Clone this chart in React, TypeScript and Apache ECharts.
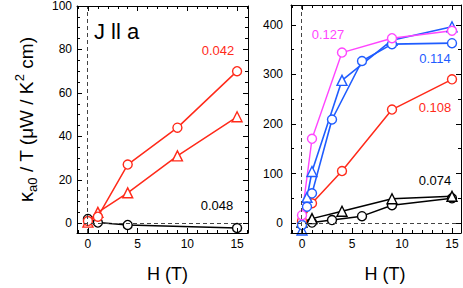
import React, { useEffect, useRef } from "react";
import * as echarts from "echarts";

const FONT = "'Liberation Sans', Arial, Helvetica, sans-serif";
const RED = "#ff2a1a";
const BLUE = "#1f5cff";
const MAGENTA = "#ff45ff";
const BLACK = "#000000";

// ---- Left panel (J || a) ----
const leftRedCircH = [0, 1, 4, 9, 15];
const leftRedCircK = [1, 3, 27, 44, 70];
const leftRedTriH = [0, 1, 4, 9, 15];
const leftRedTriK = [0.5, 5, 14, 31, 49];
const leftBlackCircH = [0, 1, 4, 15];
const leftBlackCircK = [2, 0.3, -0.8, -2.2];

// ---- Right panel ----
const magCircH = [0, 1, 4, 9, 15];
const magCircK = [16, 170, 344, 373, 388];
const blueCircH = [0, 0.5, 1, 3, 6, 9, 15];
const blueCircK = [-4, 33, 60, 209, 327, 361, 363];
const blueTriH = [0, 0.5, 1, 4, 9, 15];
const blueTriK = [-14, 52, 104, 288, 369, 396];
const rightRedCircH = [0, 1, 4, 9, 15];
const rightRedCircK = [4, 40, 105, 229, 290];
const blackTriH = [0, 1, 4, 9, 15];
const blackTriK = [2, 9, 24, 49, 54];
const blackCircH = [0, 1, 3, 6, 9, 15];
const blackCircK = [0, 1, 6, 14, 36, 50];

// ---- Ticks ----
const xMajorTicks = [0, 5, 10, 15];
const leftYMajorTicks = [0, 20, 40, 60, 80, 100];
const rightYMajorTicks = [0, 100, 200, 300, 400];

// ---- Labels ----
const panelLabel = "J ll a";
const leftTags = ["0.042", "0.048"];
const rightTags = ["0.127", "0.114", "0.108", "0.074"];

function minorTicks(min: number, max: number, step: number, majors: number[]) {
  const out: number[] = [];
  const start = Math.ceil(min / step) * step;
  for (let v = start; v <= max + 1e-9; v += step) {
    const r = Math.round(v * 1000) / 1000;
    if (!majors.includes(r)) out.push(r);
  }
  return out;
}

function axisSet(
  dim: "x" | "y",
  grid: number,
  min: number,
  max: number,
  majors: number[],
  minors: number[],
  labelMargin: number,
  extra: any = {}
) {
  const sides = dim === "x" ? ["bottom", "top"] : ["left", "right"];
  const out: any[] = [];
  sides.forEach((pos, si) => {
    [true, false].forEach((major) => {
      const ax: any = {
        type: "value",
        gridIndex: grid,
        position: pos,
        min,
        max,
        axisLine: { show: major, onZero: false, lineStyle: { color: "#000", width: 1 } },
        axisTick: {
          show: true,
          inside: true,
          length: major ? 5 : 3,
          customValues: major ? majors : minors,
          lineStyle: { color: "#000", width: 1 },
        },
        axisLabel: {
          show: major && si === 0,
          customValues: majors,
          margin: labelMargin,
          fontSize: 12,
          color: "#000",
          fontFamily: FONT,
        },
        splitLine: { show: false },
        z: 5,
      };
      if (major && si === 0) Object.assign(ax, extra);
      out.push(ax);
    });
  });
  return out;
}

function mk(
  h: number[],
  k: number[],
  color: string,
  symbol: string,
  size: number,
  width: number,
  xi: number,
  yi: number,
  extra: any = {}
) {
  return {
    type: "line",
    xAxisIndex: xi,
    yAxisIndex: yi,
    data: h.map((v, i) => [v, k[i]]),
    symbol,
    symbolSize: size,
    showSymbol: true,
    itemStyle: { color: "#fff", borderColor: color, borderWidth: 1.4 },
    lineStyle: { color, width },
    emphasis: { disabled: true },
    silent: true,
    z: 3,
    ...extra,
  };
}

const dashed = {
  silent: true,
  symbol: "none",
  label: { show: false },
  lineStyle: { type: [4, 3], color: "#444", width: 1 },
  data: [{ xAxis: -0.1 }, { yAxis: 0 }],
};

export default function App() {
  const ref = useRef<HTMLDivElement>(null);
  useEffect(() => {
    if (!ref.current) return;
    const chart = echarts.init(ref.current, null, { renderer: "svg" });
    const LX = [-1.1, 16.1];
    const RX = [-1.1, 15.9];
    const LY = [-4.5, 100];
    const RY = [-20, 440];
    const xNameStyle = (pad: number) => ({
      name: "H (T)",
      nameLocation: "middle",
      nameGap: 32,
      nameTextStyle: { fontFamily: FONT, fontSize: 18, color: "#000", padding: [0, 0, 0, pad] },
    });
    const xAxes = [
      ...axisSet("x", 0, LX[0], LX[1], xMajorTicks, minorTicks(LX[0], LX[1], 1, xMajorTicks), 5, xNameStyle(10)),
      ...axisSet("x", 1, RX[0], RX[1], xMajorTicks, minorTicks(RX[0], RX[1], 1, xMajorTicks), 5, xNameStyle(18)),
    ];
    const yAxes = [
      ...axisSet("y", 0, LY[0], LY[1], leftYMajorTicks, minorTicks(LY[0], LY[1], 5, leftYMajorTicks), 5, {
        name: "{k|κ}{s|a0}{n| / T (μW / K}{p|2}{n| cm)}",
        nameLocation: "middle",
        nameGap: 38,
        nameTextStyle: {
          fontFamily: FONT,
          fontSize: 19,
          color: "#000",
          rich: {
            k: { fontFamily: FONT, fontSize: 20, lineHeight: 26, color: "#000" },
            s: { fontFamily: FONT, fontSize: 13, lineHeight: 13, verticalAlign: "bottom", color: "#000" },
            n: { fontFamily: FONT, fontSize: 19, lineHeight: 26, color: "#000" },
            p: { fontFamily: FONT, fontSize: 13, lineHeight: 13, verticalAlign: "top", color: "#000" },
          },
        },
      }),
      ...axisSet("y", 1, RY[0], RY[1], rightYMajorTicks, minorTicks(RY[0], RY[1], 50, rightYMajorTicks), 8),
    ];
    const series = [
      mk(leftBlackCircH, leftBlackCircK, BLACK, "circle", 9, 1.5, 0, 0, { markLine: dashed, z: 2 }),
      mk(leftRedTriH, leftRedTriK, RED, "triangle", 10, 1.5, 0, 0),
      mk(leftRedCircH, leftRedCircK, RED, "circle", 9, 1.5, 0, 0),
      mk(blackCircH, blackCircK, BLACK, "circle", 9, 1.5, 4, 4, { markLine: dashed, z: 2 }),
      mk(blackTriH, blackTriK, BLACK, "triangle", 10, 1.5, 4, 4),
      mk(rightRedCircH, rightRedCircK, RED, "circle", 9, 1.5, 4, 4),
      mk(blueTriH, blueTriK, BLUE, "triangle", 10, 1.6, 4, 4),
      mk(blueCircH, blueCircK, BLUE, "circle", 9, 1.6, 4, 4),
      mk(magCircH, magCircK, MAGENTA, "circle", 9, 1.4, 4, 4),
    ];
    const txt = (text: string, x: number, y: number, color: string, size = 13, align = "center") => ({
      type: "text",
      x,
      y,
      z: 10,
      style: { text, fill: color, fontFamily: FONT, fontSize: size, align, verticalAlign: "middle" },
    });
    chart.setOption({
      animation: false,
      backgroundColor: "#fff",
      grid: [
        { left: 77, top: 5, width: 171, height: 229 },
        { left: 291, top: 5, width: 170, height: 229 },
      ],
      xAxis: xAxes,
      yAxis: yAxes,
      series,
      graphic: [
        txt(panelLabel, 94, 31, "#000", 22, "left"),
        txt(leftTags[0], 218, 50, RED),
        txt(leftTags[1], 217, 205, BLACK),
        txt(rightTags[0], 328, 34, MAGENTA),
        txt(rightTags[1], 435, 58, BLUE),
        txt(rightTags[2], 435, 107, RED),
        txt(rightTags[3], 435, 180, BLACK),
      ],
    });
    return () => chart.dispose();
  }, []);
  return (
    <div
      ref={ref}
      style={{ position: "absolute", left: 0, top: 0, width: 463, height: 288, background: "#fff" }}
    />
  );
}
